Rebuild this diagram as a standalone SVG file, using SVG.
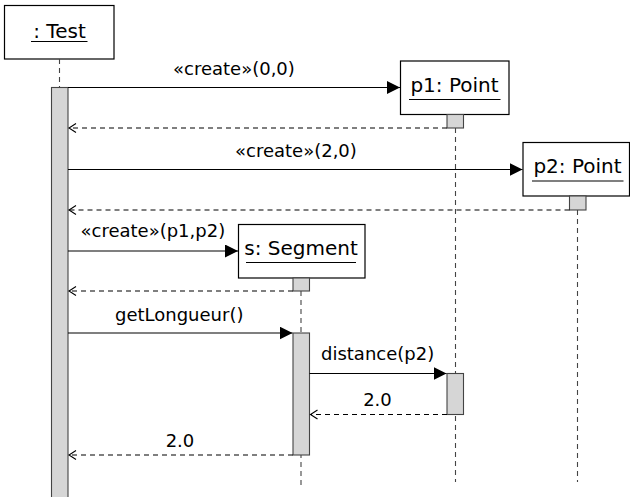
<svg xmlns="http://www.w3.org/2000/svg" width="630" height="497" viewBox="0 0 630 497">
  <style>
    .box { fill: #ffffff; stroke: #000000; stroke-width: 1.2; }
    .act { fill: #d6d6d6; stroke: #444444; stroke-width: 1.1; }
    .life { stroke: #444444; stroke-width: 1.1; stroke-dasharray: 5 4; fill: none; }
    .name { font-family: "DejaVu Sans", sans-serif; font-size: 20px; fill: #000000; text-anchor: middle; }
    .ul { stroke: #000000; stroke-width: 1.1; }
    .msg { stroke: #000000; stroke-width: 1.1; fill: none; marker-end: url(#solid); }
    .ret { stroke: #000000; stroke-width: 1.1; fill: none; stroke-dasharray: 5 4; marker-end: url(#open); }
    .lbl { font-family: "DejaVu Sans", sans-serif; font-size: 18px; fill: #000000; }
  </style>
  <defs>
    <marker id="solid" markerUnits="userSpaceOnUse" markerWidth="13" markerHeight="13" viewBox="0 0 13 13" refX="13" refY="6.5" orient="auto">
      <path d="M0,0 L13,6.5 L0,13 Z" fill="#000000"/>
    </marker>
    <marker id="open" markerUnits="userSpaceOnUse" markerWidth="10" markerHeight="12" viewBox="-1 -1 10 12" refX="7" refY="4.5" orient="auto">
      <path d="M0,0 L7,4.5 L0,9" fill="none" stroke="#000000" stroke-width="1.1"/>
    </marker>
  </defs>

  <g id="test">
    <rect class="box" x="4.5" y="5.5" width="109.5" height="53.5"/>
    <text class="name" x="59.5" y="37.5">: Test</text>
    <line class="ul" x1="31" y1="41.5" x2="87.5" y2="41.5"/>
    <line class="life" x1="59.5" y1="59" x2="59.5" y2="87"/>
    <rect class="act" x="51.5" y="87.5" width="16.5" height="412"/>
  </g>

  <g id="p1">
    <rect class="box" x="400.5" y="61" width="108.5" height="53.5"/>
    <text class="name" x="454.5" y="91.5">p1: Point</text>
    <line class="ul" x1="409" y1="99.5" x2="500.5" y2="99.5"/>
    <line class="life" x1="455.5" y1="128" x2="455.5" y2="482"/>
    <rect class="act" x="447" y="114.5" width="16.5" height="13.5"/>
    <rect class="act" x="447" y="373.5" width="16.5" height="41"/>
  </g>

  <g id="p2">
    <rect class="box" x="523" y="142.5" width="106.5" height="53.5"/>
    <text class="name" x="577.5" y="173">p2: Point</text>
    <line class="ul" x1="532" y1="181" x2="623.5" y2="181"/>
    <line class="life" x1="577.5" y1="210" x2="577.5" y2="482"/>
    <rect class="act" x="569.5" y="196" width="16.5" height="14"/>
  </g>

  <g id="s">
    <rect class="box" x="238.5" y="224.5" width="126.5" height="53.5"/>
    <text class="name" x="301" y="255">s: Segment</text>
    <line class="ul" x1="246" y1="262.5" x2="356" y2="262.5"/>
    <line class="life" x1="301" y1="291" x2="301" y2="486"/>
    <rect class="act" x="293" y="278" width="16.5" height="13"/>
    <rect class="act" x="293" y="333" width="16.5" height="122"/>
  </g>

  <g id="connectors">
    <line class="msg" x1="68" y1="87.5" x2="400" y2="87.5"/>
    <text class="lbl" x="173" y="75">«create»(0,0)</text>
    <line class="ret" x1="447" y1="128" x2="69" y2="128"/>

    <line class="msg" x1="68" y1="169.5" x2="522.5" y2="169.5"/>
    <text class="lbl" x="235" y="156.5">«create»(2,0)</text>
    <line class="ret" x1="569.5" y1="210" x2="69" y2="210"/>

    <line class="msg" x1="68" y1="251" x2="238" y2="251"/>
    <text class="lbl" x="80.5" y="236.5">«create»(p1,p2)</text>
    <line class="ret" x1="293" y1="291" x2="69" y2="291"/>

    <line class="msg" x1="68" y1="333" x2="292.5" y2="333"/>
    <text class="lbl" x="115" y="321">getLongueur()</text>

    <line class="msg" x1="309.5" y1="373.5" x2="446.5" y2="373.5"/>
    <text class="lbl" x="321" y="359.5">distance(p2)</text>

    <line class="ret" x1="447" y1="414.5" x2="310.5" y2="414.5"/>
    <text class="lbl" x="377.5" y="406" text-anchor="middle">2.0</text>

    <line class="ret" x1="293" y1="455" x2="69" y2="455"/>
    <text class="lbl" x="180" y="446.5" text-anchor="middle">2.0</text>
  </g>
</svg>
